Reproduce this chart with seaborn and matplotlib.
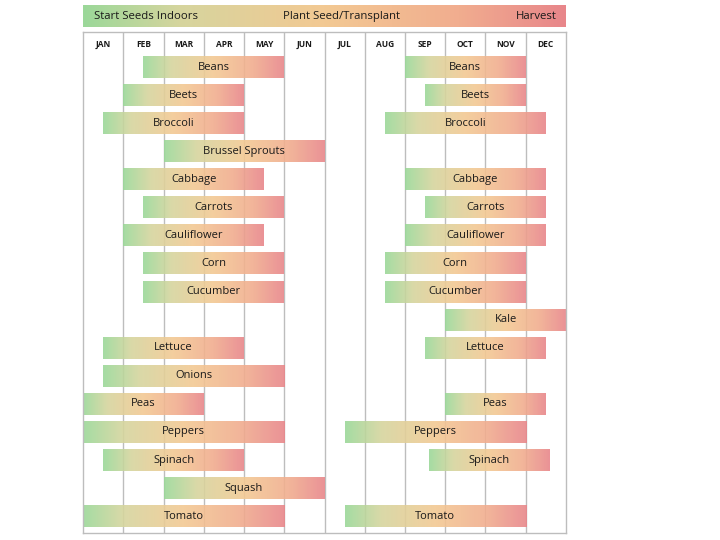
import numpy as np
import matplotlib
matplotlib.use('Agg')
import matplotlib.pyplot as plt
import seaborn as sns
from matplotlib.colors import LinearSegmentedColormap

sns.set_style('white')
plt.rcParams['font.family'] = ['Open Sans', 'DejaVu Sans']

months = ['JAN', 'FEB', 'MAR', 'APR', 'MAY', 'JUN',
          'JUL', 'AUG', 'SEP', 'OCT', 'NOV', 'DEC']
crops = ['Beans', 'Beets', 'Broccoli', 'Brussel Sprouts', 'Cabbage', 'Carrots',
         'Cauliflower', 'Corn', 'Cucumber', 'Kale', 'Lettuce', 'Onions',
         'Peas', 'Peppers', 'Spinach', 'Squash', 'Tomato']
nan = np.nan
# month positions: 0 = start of Jan, 12 = end of Dec
spring_start = [1.5, 1, 0.5, 2, 1, 1.5, 1, 1.5, 1.5, nan, 0.5, 0.5, 0, 0, 0.5, 2, 0]
spring_end = [5, 4, 4, 6, 4.5, 5, 4.5, 5, 5, nan, 4, 5, 3, 5, 4, 6, 5]
fall_start = [8, 8.5, 7.5, nan, 8, 8.5, 8, 7.5, 7.5, 9, 8.5, nan, 9, 6.5, 8.6, nan, 6.5]
fall_end = [11, 11, 11.5, nan, 11.5, 11.5, 11.5, 11, 11, 12, 11.5, nan, 11.5, 11, 11.6, nan, 11]
legend_labels = ['Start Seeds Indoors', 'Plant Seed/Transplant', 'Harvest']

cmap = LinearSegmentedColormap.from_list(
    'season', [(0, '#9bd899'), (0.2, '#d6d59e'), (0.5, '#f3c993'),
               (0.78, '#f1ad8f'), (1, '#e8868a')])
grad = np.linspace(0, 1, 256).reshape(1, -1)

fig = plt.figure(figsize=(7.2, 5.4), dpi=100)
ax = fig.add_axes([0.1153, 0.013, 0.6708, 0.9278])

top, bottom = -1.25, 16.6
ax.vlines(range(1, 12), top, bottom, color='#bdbdbd', lw=1, zorder=1)

for i, crop in enumerate(crops):
    for s, e in [(spring_start[i], spring_end[i]), (fall_start[i], fall_end[i])]:
        if np.isnan(s):
            continue
        ax.imshow(grad, extent=(s, e, i + 0.39, i - 0.39), aspect='auto',
                  cmap=cmap, alpha=0.9, zorder=2, interpolation='bilinear')
        ax.text((s + e) / 2, i, crop, ha='center', va='center',
                fontsize=8, color='#1a1a1a', zorder=3)

for m, name in enumerate(months):
    ax.text(m + 0.5, -0.82, name, ha='center', va='center',
            fontsize=6, fontweight='bold', color='#1a1a1a')

ax.set_xlim(0, 12)
ax.set_ylim(bottom, top)
ax.set_xticks([])
ax.set_yticks([])
for sp in ax.spines.values():
    sp.set_color('#bdbdbd')
    sp.set_linewidth(1)

# gradient legend strip on top
lax = fig.add_axes([0.1153, 0.95, 0.6708, 0.0407])
lax.imshow(grad, extent=(0, 12, 0, 1), aspect='auto', cmap=cmap,
           interpolation='bilinear')
lax.text(0.27, 0.5, legend_labels[0], ha='left', va='center', fontsize=8.2, color='#1a1a1a')
lax.text(6.42, 0.5, legend_labels[1], ha='center', va='center', fontsize=8.2, color='#1a1a1a')
lax.text(11.76, 0.5, legend_labels[2], ha='right', va='center', fontsize=8.2, color='#1a1a1a')
lax.set_xlim(0, 12)
lax.set_ylim(0, 1)
lax.axis('off')

fig.savefig('out.png', dpi=100)
